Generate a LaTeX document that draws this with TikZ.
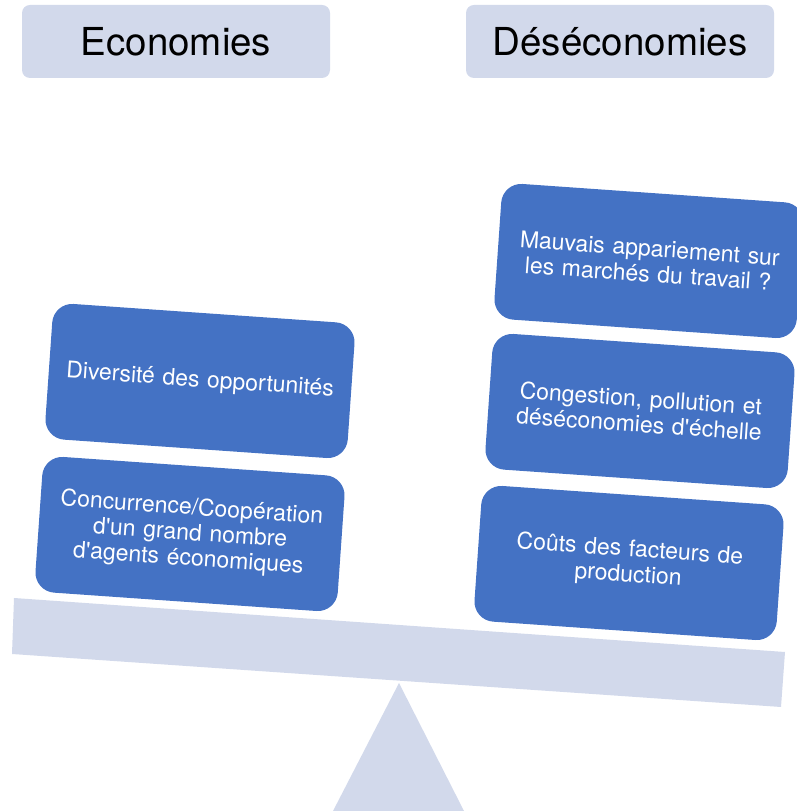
\documentclass[tikz,border=0pt]{standalone}
\usepackage{fontspec}
\setmainfont{TeX Gyre Heros}
\definecolor{lav}{HTML}{D2D9EB}
\definecolor{boxblue}{HTML}{4472C4}
\newcommand{\apos}{\textquotesingle}
\begin{document}
\begin{tikzpicture}[x=1pt,y=1pt,
  header/.style={fill=lav, rounded corners=8pt, minimum width=308pt, minimum height=73pt,
    inner sep=0pt, font=\fontsize{38.5}{41}\selectfont, text=black},
  bluebox/.style={fill=boxblue, rounded corners=20pt, minimum width=303pt, minimum height=136pt,
    inner sep=0pt, text width=290pt, align=center, rotate=-4, text=white,
    font=\fontsize{23}{25.5}\selectfont}]
\useasboundingbox (0,0) rectangle (796,811);
% beam and fulcrum
\fill[lav] (399,128) -- (333,0) -- (464,0) -- cycle;
\fill[lav] (14,213) -- (785,159) -- (781,104) -- (12,157) -- cycle;
% headers
\node[header] (eco) at (176,769.5) {Economies};
\node[header] (deseco) at (620,769.5) {Déséconomies};
% left boxes
\node[bluebox] (div) at (200,430) {Diversité des opportunités};
\node[bluebox] (conc) at (190,277) {Concurrence/Coopération\\d\apos un grand nombre\\d\apos agents économiques};
% right boxes
\node[bluebox] (mauv) at (649,550) {Mauvais appariement sur\\les marchés du travail ?};
\node[bluebox] (cong) at (640,400) {Congestion, pollution et\\déséconomies d\apos échelle};
\node[bluebox] (couts) at (629,248) {Coûts des facteurs de\\production};
\end{tikzpicture}
\end{document}
